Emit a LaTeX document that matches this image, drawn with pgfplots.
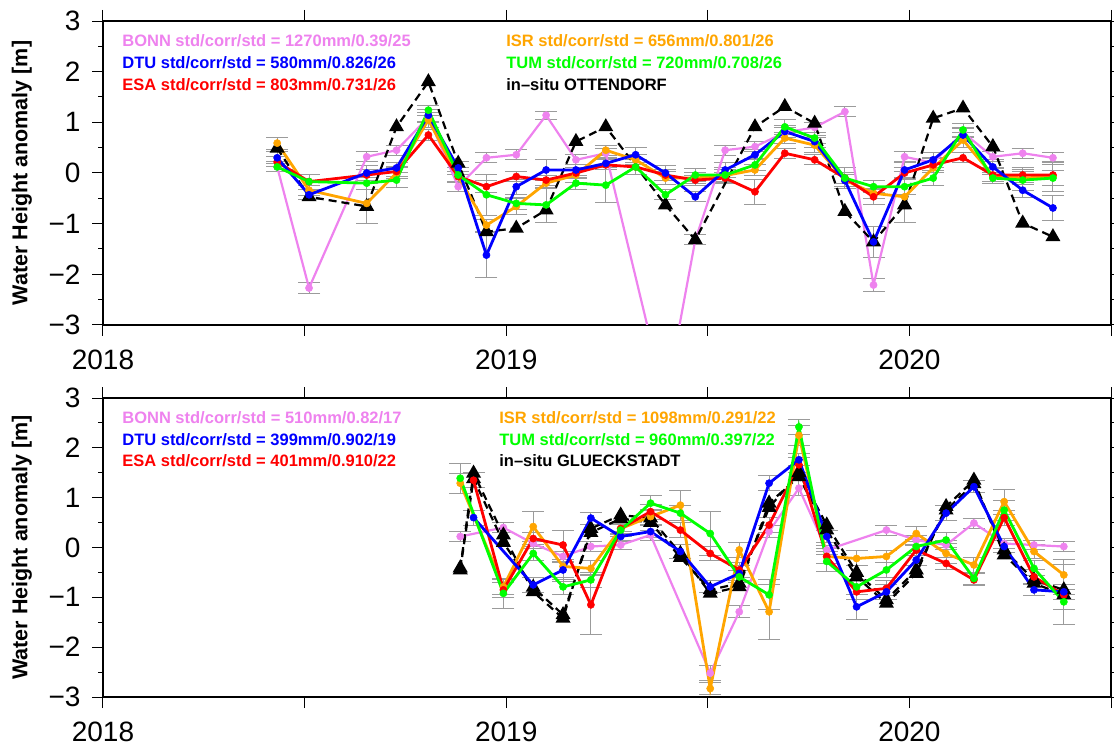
\documentclass[border=0pt]{standalone}
\usepackage{fontspec}
\setmainfont{Liberation Sans}
\usepackage{pgfplots}
\usepackage{pgfplotstable}
\pgfplotsset{compat=1.18}
\definecolor{bonn}{RGB}{238,130,238}
\definecolor{dtu}{RGB}{0,0,255}
\definecolor{esa}{RGB}{255,0,0}
\definecolor{isr}{RGB}{255,165,0}
\definecolor{tum}{RGB}{0,255,0}
\definecolor{errgray}{RGB}{155,155,155}

\pgfplotstableread{
x        bonn  ebonn dtu   edtu  esa   eesa  isr   eisr  tum   etum  ins
2018.432 0.12  0.10  0.30  0.12  0.22  0.10  0.59  0.12  0.12  0.10  0.49
2018.511 -2.27 0.10  -0.43 0.10  -0.17 0.15  -0.34 0.10  -0.17 0.15  -0.47
2018.654 0.32  0.10  0.00  0.15  -0.04 0.10  -0.60 0.40  -0.20 0.12  -0.66
2018.728 0.45  0.10  0.10  0.10  0.03  0.10  0.00  0.10  -0.14 0.15  0.91
2018.807 1.10  0.10  1.14  0.12  0.75  0.10  1.05  0.15  1.24  0.10  1.80
2018.881 -0.27 0.10  0.10  0.12  -0.07 0.10  -0.07 0.10  -0.04 0.15  0.19
2018.951 0.30  0.10  -1.62 0.45  -0.27 0.12  -1.03 0.12  -0.43 0.40  -1.16
2019.025 0.36  0.10  -0.27 0.15  -0.07 0.10  -0.66 0.15  -0.60 0.12  -1.09
2019.099 1.14  0.08  0.06  0.20  -0.14 0.10  -0.20 0.10  -0.63 0.35  -0.73
2019.173 0.26  0.10  0.06  0.10  0.00  0.10  -0.04 0.15  -0.20 0.12  0.62
2019.247 0.39  0.10  0.19  0.12  0.16  0.10  0.45  0.10  -0.24 0.35  0.91
2019.321 nan   nan   0.36  0.15  0.12  0.15  0.26  0.10  0.12  0.15  nan
2019.395 -4.50 0.10  0.00  0.15  -0.04 0.10  -0.10 0.12  -0.43 0.10  -0.63
2019.469 -1.32 0.10  -0.47 0.10  -0.14 0.10  -0.10 0.10  -0.04 0.12  -1.32
2019.543 0.45  0.10  0.06  0.15  -0.10 0.10  -0.05 0.12  -0.04 0.15  nan
2019.617 0.52  0.10  0.36  0.10  -0.37 0.25  0.06  0.10  0.16  0.12  0.91
2019.691 0.80  0.10  0.82  0.12  0.39  0.10  0.69  0.10  0.91  0.15  1.31
2019.765 0.90  0.10  0.62  0.12  0.26  0.10  0.55  0.15  0.69  0.10  0.98
2019.840 1.21  0.10  -0.15 0.15  -0.10 0.10  -0.14 0.12  -0.10 0.20  -0.76
2019.911 -2.21 0.12  -1.36 0.30  -0.47 0.15  -0.40 0.10  -0.27 0.12  -1.36
2019.988 0.32  0.10  0.06  0.15  0.00  0.10  -0.47 0.50  -0.27 0.15  -0.63
2020.059 0.20  0.10  0.26  0.15  0.16  0.12  0.10  0.10  -0.10 0.15  1.08
2020.133 0.80  0.10  0.75  0.12  0.30  0.10  0.65  0.15  0.85  0.12  1.28
2020.207 0.32  0.10  0.12  0.15  -0.04 0.12  -0.05 0.15  -0.10 0.10  0.52
2020.281 0.39  0.10  -0.34 0.15  -0.04 0.15  -0.10 0.12  -0.14 0.20  -0.99
2020.356 0.30  0.10  -0.69 0.25  -0.04 0.20  -0.07 0.30  -0.10 0.15  -1.26
}\toptab

\pgfplotstableread{
x        bonn  ebonn dtu   edtu  esa   eesa  isr   eisr  tum   etum  ins   insb
2018.886 0.22  0.10  nan   nan   nan   nan   1.29  0.20  1.39  0.30  -0.41 -0.45
2018.919 nan   nan   0.60  0.15  1.35  0.15  nan   nan   nan   nan   1.49  1.38
2018.993 0.40  0.10  nan   nan   -0.85 0.15  -0.79 0.15  -0.92 0.30  0.25  0.10
2019.067 0.08  0.10  -0.75 0.15  0.18  0.12  0.42  0.30  -0.12 0.15  -0.89 -0.80
2019.141 -0.18 0.10  -0.45 0.15  0.05  0.30  -0.38 0.30  -0.79 0.15  -1.42 -1.35
2019.210 0.02  0.10  0.59  0.12  -1.15 0.60  -0.42 0.15  -0.65 0.15  0.38  0.30
2019.284 0.05  0.10  0.22  0.10  0.38  0.12  0.38  0.10  0.35  0.12  0.65  0.58
2019.358 0.25  0.10  0.32  0.12  0.72  0.15  0.62  0.15  0.89  0.15  0.59  0.50
2019.432 nan   nan   -0.08 0.15  0.35  0.15  0.85  0.30  0.69  0.15  -0.12 -0.20
2019.506 -2.52 0.15  -0.79 0.12  -0.12 0.15  -2.83 0.12  0.28  0.45  -0.92 -0.85
2019.578 -1.29 0.12  -0.52 0.15  -0.45 0.15  -0.05 0.15  -0.59 0.12  -0.79 -0.72
2019.652 0.32  0.12  1.29  0.15  0.45  0.15  -1.29 0.55  -0.95 0.30  0.89  0.80
2019.726 1.19  0.15  1.76  0.12  1.66  0.15  2.25  0.20  2.42  0.15  1.42  1.50
2019.795 -0.05 0.10  0.22  0.12  -0.18 0.15  -0.18 0.15  -0.28 0.20  0.35  0.45
2019.869 nan   nan   -1.19 0.25  -0.89 0.15  -0.22 0.15  -0.79 0.15  -0.59 -0.50
2019.943 0.35  0.10  -0.89 0.15  -0.82 0.15  -0.18 0.12  -0.45 0.15  -1.12 -1.05
2020.017 0.15  0.10  -0.25 0.12  -0.05 0.12  0.28  0.15  0.02  0.15  -0.52 -0.45
2020.091 0.05  0.10  0.69  0.15  -0.32 0.12  -0.12 0.20  0.15  0.15  0.82  0.75
2020.160 0.49  0.10  1.22  0.12  -0.65 0.12  -0.35 0.15  -0.62 0.12  1.35  1.28
2020.235 0.08  0.10  0.02  0.12  0.60  0.15  0.92  0.25  0.75  0.20  -0.15 -0.05
2020.309 0.05  0.10  -0.85 0.12  -0.59 0.15  -0.08 0.15  -0.42 0.15  -0.72 -0.65
2020.383 0.02  0.10  -0.89 0.15  -0.95 0.60  -0.55 0.30  -1.09 0.15  -0.95 -0.85
}\bottab

\pgfplotsset{
  gmt/.style={
    scale only axis, width=1008pt,
    xmin=2018, xmax=2020.5, ymin=-3, ymax=3,
    xtick={2018,2018.5,2019,2019.5,2020,2020.5},
    xticklabels={2018,,2019,,2020,},
    ytick={-3,-2,-1,0,1,2,3},
    yticklabels={−3,−2,−1,0,1,2,3},
    minor ytick={-2.5,-1.5,-0.5,0.5,1.5,2.5},
    tick align=outside, xtick pos=both, ytick pos=both,
    xticklabel pos=lower, yticklabel pos=left,
    major tick length=11pt, minor tick length=5pt,
    every tick/.style={black, line width=1pt},
    axis line style={line width=2.6pt},
    ticklabel style={font=\fontsize{28}{28}\selectfont},
    xticklabel style={yshift=-10pt},
    yticklabel style={xshift=-8pt},
    ylabel={Water Height anomaly [m]},
    ylabel style={font=\fontsize{21.5}{21.5}\selectfont\bfseries, at={(axis description cs:-0.0804,0.5)}, anchor=center},
  },
  errs/.style={draw=none, mark=none, forget plot,
    error bars/.cd, y dir=both, y explicit, error mark=|,
    error bar style={draw=errgray, line width=1pt, solid},
    error mark options={draw=errgray, line width=1pt, mark size=11pt}},
  sat/.style={color=#1, mark=*, mark size=3.6pt, line width=2.8pt,
    mark options={solid, fill=#1, draw=#1, line width=0.5pt}},
  situ/.style={black, line width=2.2pt, dash pattern=on 8pt off 5pt,
    mark=triangle*, mark size=6.5pt, mark options={solid, fill=black}},
}
\tikzset{lab/.style={anchor=west, inner sep=0pt, font=\fontsize{16.5}{18}\selectfont\bfseries}}

\begin{document}
\begin{tikzpicture}
\useasboundingbox (0,0) rectangle (1114pt,745pt);

% ---------------- top panel ----------------
\begin{axis}[gmt, height=304pt, at={(103pt,420pt)}, anchor=south west]
\addplot[errs] table[x=x, y=bonn, y error=ebonn] {\toptab};
\addplot[errs] table[x=x, y=dtu, y error=edtu] {\toptab};
\addplot[errs] table[x=x, y=esa, y error=eesa] {\toptab};
\addplot[errs] table[x=x, y=isr, y error=eisr] {\toptab};
\addplot[errs] table[x=x, y=tum, y error=etum] {\toptab};
\addplot[sat=bonn, line width=2.2pt] table[x=x, y=bonn] {\toptab};
\addplot[situ] table[x=x, y=ins] {\toptab};
\addplot[sat=isr] table[x=x, y=isr] {\toptab};
\addplot[sat=esa] table[x=x, y=esa] {\toptab};
\addplot[sat=dtu] table[x=x, y=dtu] {\toptab};
\addplot[sat=tum] table[x=x, y=tum] {\toptab};
\node[lab, text=bonn] at (rel axis cs:0.019,0.934) {BONN std/corr/std = 1270mm/0.39/25};
\node[lab, text=dtu]  at (rel axis cs:0.019,0.862) {DTU std/corr/std = 580mm/0.826/26};
\node[lab, text=esa]  at (rel axis cs:0.019,0.790) {ESA std/corr/std = 803mm/0.731/26};
\node[lab, text=isr]  at (rel axis cs:0.400,0.934) {ISR std/corr/std = 656mm/0.801/26};
\node[lab, text=tum]  at (rel axis cs:0.400,0.862) {TUM std/corr/std = 720mm/0.708/26};
\node[lab, text=black] at (rel axis cs:0.400,0.790) {in–situ OTTENDORF};
\end{axis}

% ---------------- bottom panel ----------------
\begin{axis}[gmt, height=299pt, at={(103pt,48pt)}, anchor=south west]
\addplot[errs] table[x=x, y=bonn, y error=ebonn] {\bottab};
\addplot[errs] table[x=x, y=dtu, y error=edtu] {\bottab};
\addplot[errs] table[x=x, y=esa, y error=eesa] {\bottab};
\addplot[errs] table[x=x, y=isr, y error=eisr] {\bottab};
\addplot[errs] table[x=x, y=tum, y error=etum] {\bottab};
\addplot[sat=bonn, line width=2.2pt] table[x=x, y=bonn] {\bottab};
\addplot[situ] table[x=x, y=ins] {\bottab};
\addplot[situ] table[x=x, y=insb] {\bottab};
\addplot[sat=isr] table[x=x, y=isr] {\bottab};
\addplot[sat=esa] table[x=x, y=esa] {\bottab};
\addplot[sat=dtu] table[x=x, y=dtu] {\bottab};
\addplot[sat=tum] table[x=x, y=tum] {\bottab};
\node[lab, text=bonn] at (rel axis cs:0.019,0.934) {BONN std/corr/std = 510mm/0.82/17};
\node[lab, text=dtu]  at (rel axis cs:0.019,0.862) {DTU std/corr/std = 399mm/0.902/19};
\node[lab, text=esa]  at (rel axis cs:0.019,0.790) {ESA std/corr/std = 401mm/0.910/22};
\node[lab, text=isr]  at (rel axis cs:0.393,0.934) {ISR std/corr/std = 1098mm/0.291/22};
\node[lab, text=tum]  at (rel axis cs:0.393,0.862) {TUM std/corr/std = 960mm/0.397/22};
\node[lab, text=black] at (rel axis cs:0.393,0.790) {in–situ GLUECKSTADT};
\end{axis}
\end{tikzpicture}
\end{document}
